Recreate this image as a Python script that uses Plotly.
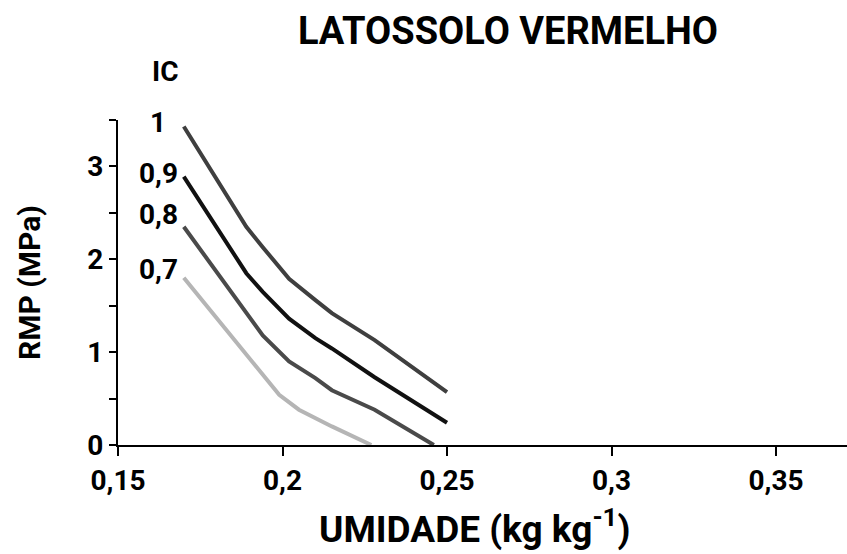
import plotly.graph_objects as go

# Soil penetration resistance (RMP, MPa) vs. moisture for each compaction degree (IC)
ic_labels = ["1", "0,9", "0,8", "0,7"]

umidade_ic10 = [0.170, 0.189, 0.194, 0.202, 0.210, 0.215, 0.228, 0.250]
rmp_ic10 = [3.43, 2.35, 2.13, 1.79, 1.56, 1.42, 1.13, 0.57]

umidade_ic09 = [0.170, 0.189, 0.194, 0.202, 0.210, 0.215, 0.228, 0.250]
rmp_ic09 = [2.89, 1.85, 1.65, 1.36, 1.15, 1.04, 0.73, 0.24]

umidade_ic08 = [0.170, 0.189, 0.194, 0.202, 0.210, 0.215, 0.228, 0.246]
rmp_ic08 = [2.35, 1.43, 1.18, 0.90, 0.72, 0.59, 0.38, 0.00]

umidade_ic07 = [0.170, 0.194, 0.199, 0.205, 0.215, 0.227]
rmp_ic07 = [1.80, 0.77, 0.54, 0.38, 0.20, 0.00]

x_ticks = [0.15, 0.20, 0.25, 0.30, 0.35]
x_ticktext = ["0,15", "0,2", "0,25", "0,3", "0,35"]
y_ticks = [0, 0.5, 1, 1.5, 2, 2.5, 3, 3.5]
y_ticktext = ["0", "", "1", "", "2", "", "3", ""]

series = [
    (umidade_ic10, rmp_ic10, "#3f3f3f"),
    (umidade_ic09, rmp_ic09, "#111111"),
    (umidade_ic08, rmp_ic08, "#4a4a4a"),
    (umidade_ic07, rmp_ic07, "#b5b5b5"),
]

FONT = "Roboto, Liberation Sans, Arial, sans-serif"

W, H = 847, 554
L, R, T, B = 118, 0, 120, 109
PW, PH = W - L - R, H - T - B


def px(x):
    return (x - L) / PW


def py(y):
    return 1 - (y - T) / PH


def bold(size):
    return dict(family=FONT, size=size, color="black", weight="bold")


fig = go.Figure()
for (xs, ys, color), name in zip(series, ic_labels):
    fig.add_trace(go.Scatter(
        x=xs, y=ys, mode="lines", name=name,
        line=dict(color=color, width=4),
        showlegend=False,
    ))

# curve labels, placed just left of each curve start
label_pos_y = [122, 173, 214, 269]
for text, ly in zip(ic_labels, label_pos_y):
    fig.add_annotation(
        x=px(158), xref="paper", y=py(ly), yref="paper",
        text=text, showarrow=False, xanchor="center", yanchor="middle",
        font=bold(28),
    )
fig.add_annotation(
    x=px(165), xref="paper", y=py(72), yref="paper",
    text="IC", showarrow=False, xanchor="center", yanchor="middle",
    font=bold(28),
)

# axis titles
fig.add_annotation(
    x=px(474), xref="paper", y=py(526), yref="paper",
    text="UMIDADE (kg kg<sup>-1</sup>)", showarrow=False,
    xanchor="center", yanchor="middle", font=bold(37),
)
fig.add_annotation(
    x=px(29), xref="paper", y=py(283), yref="paper",
    text="RMP (MPa)", showarrow=False, textangle=-90,
    xanchor="center", yanchor="middle", font=bold(30),
)

fig.update_layout(
    width=W, height=H,
    margin=dict(l=L, r=R, t=T, b=B, pad=0),
    paper_bgcolor="white", plot_bgcolor="white",
    title=dict(
        text="LATOSSOLO VERMELHO",
        x=508 / W, xanchor="center", xref="container",
        y=1 - 31 / H, yanchor="middle", yref="container",
        font=bold(38),
    ),
    xaxis=dict(
        range=[0.15, 0.15 + 0.05 * PW / 164.5],
        tickvals=x_ticks, ticktext=x_ticktext,
        ticks="outside", ticklen=9, tickwidth=2, tickcolor="black",
        showline=True, linecolor="black", linewidth=2,
        showgrid=False, zeroline=False,
        tickfont=bold(28),
    ),
    yaxis=dict(
        range=[0, 3.5],
        tickvals=y_ticks, ticktext=y_ticktext,
        ticks="outside", ticklen=7, tickwidth=2, tickcolor="black",
        showline=True, linecolor="black", linewidth=2,
        showgrid=False, zeroline=False,
        tickfont=bold(28),
    ),
)

fig.write_html("out.html")
